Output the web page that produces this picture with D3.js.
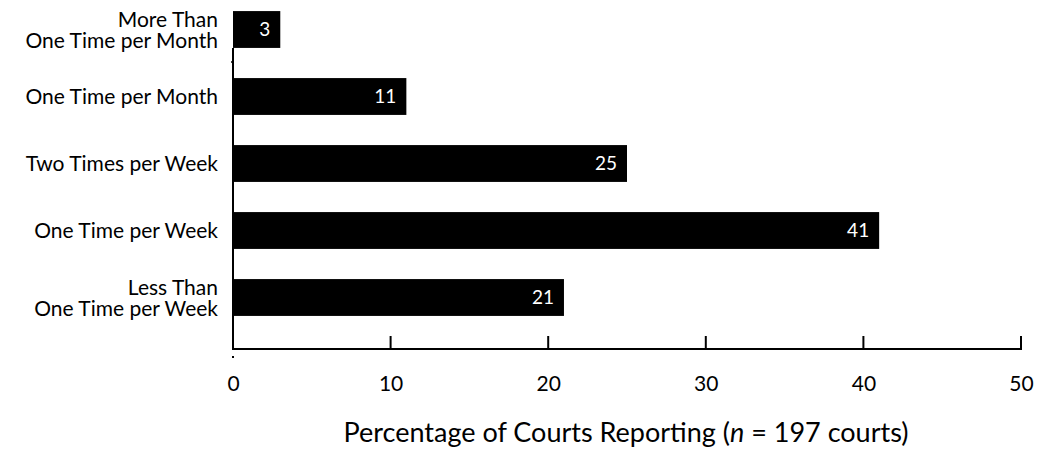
<!DOCTYPE html>
<html>
<head>
<meta charset="utf-8">
<script src="https://cdn.jsdelivr.net/npm/d3@7"></script>
<style>
  body { margin: 0; background: #fff; }
  text { font-family: Lato, "Open Sans", sans-serif; fill: #000; }
</style>
</head>
<body>
<svg id="chart"></svg>
<script>
const categories = [
  ["More Than", "One Time per Month"],
  ["One Time per Month"],
  ["Two Times per Week"],
  ["One Time per Week"],
  ["Less Than", "One Time per Week"]
];
const values = [3, 11, 25, 41, 21];
const xTicks = [0, 10, 20, 30, 40, 50];

const width = 1037, height = 452;
const svg = d3.select("#chart").attr("width", width).attr("height", height);

const x = d3.scaleLinear().domain([0, 50]).range([233, 1021]);
const y = d3.scaleBand()
  .domain(d3.range(categories.length))
  .range([-4, 331])
  .paddingInner(0.45)
  .paddingOuter(0.225);

const axisY = 349;

// bars
svg.selectAll("rect.bar")
  .data(values)
  .enter()
  .append("rect")
  .attr("class", "bar")
  .attr("x", x(0))
  .attr("y", (d, i) => y(i))
  .attr("width", d => x(d) - x(0))
  .attr("height", y.bandwidth())
  .attr("fill", "#000");

// value labels
svg.selectAll("text.val")
  .data(values)
  .enter()
  .append("text")
  .attr("class", "val")
  .attr("x", d => x(d) - 10)
  .attr("y", (d, i) => y(i) + y.bandwidth() / 2)
  .attr("dy", "0.36em")
  .attr("text-anchor", "end")
  .style("fill", "#fff")
  .style("font-size", "19px")
  .text(d => d);

// category labels
const labels = svg.selectAll("text.cat")
  .data(categories)
  .enter()
  .append("text")
  .attr("class", "cat")
  .attr("text-anchor", "end")
  .style("font-size", "21px")
  .attr("transform", (d, i) => "translate(218," + (y(i) + y.bandwidth() / 2) + ")");

labels.selectAll("tspan")
  .data(d => d.map((t, j) => ({ t, j, n: d.length })))
  .enter()
  .append("tspan")
  .attr("x", 0)
  .attr("y", d => (d.j - (d.n - 1) / 2) * 21)
  .attr("dy", "0.36em")
  .text(d => d.t);

// y axis line
svg.append("line")
  .attr("x1", x(0)).attr("x2", x(0))
  .attr("y1", y(0) + y.bandwidth()).attr("y2", axisY)
  .attr("stroke", "#000").attr("stroke-width", 2);
svg.append("line")
  .attr("x1", x(0) - 2).attr("x2", x(0))
  .attr("y1", 62).attr("y2", 62)
  .attr("stroke", "#000").attr("stroke-width", 1.5);

// x axis
const xAxis = d3.axisBottom(x).tickValues(xTicks).tickSize(0);
const gx = svg.append("g")
  .attr("transform", "translate(0," + axisY + ")")
  .call(xAxis);
gx.select(".domain").remove();
gx.selectAll("text")
  .attr("y", 42)
  .attr("dy", null)
  .style("font-size", "21px")
  .style("font-family", "Lato, 'Open Sans', sans-serif")
  .style("fill", "#000");

svg.append("line")
  .attr("x1", x(0) - 1).attr("x2", x(50) + 1)
  .attr("y1", axisY).attr("y2", axisY)
  .attr("stroke", "#000").attr("stroke-width", 2);

svg.selectAll("line.xtick")
  .data(xTicks.slice(1))
  .enter()
  .append("line")
  .attr("class", "xtick")
  .attr("x1", d => x(d)).attr("x2", d => x(d))
  .attr("y1", axisY - 13).attr("y2", axisY)
  .attr("stroke", "#000").attr("stroke-width", 2);

svg.append("line")
  .attr("x1", x(0)).attr("x2", x(0))
  .attr("y1", axisY + 7).attr("y2", axisY + 9)
  .attr("stroke", "#000").attr("stroke-width", 2);

// axis title
const title = svg.append("text")
  .attr("x", 626)
  .attr("y", 442)
  .attr("text-anchor", "middle")
  .style("font-size", "27px");
title.append("tspan").text("Percentage of Courts Reporting (");
title.append("tspan").style("font-style", "italic").text("n");
title.append("tspan").text(" = 197 courts)");
</script>
</body>
</html>
